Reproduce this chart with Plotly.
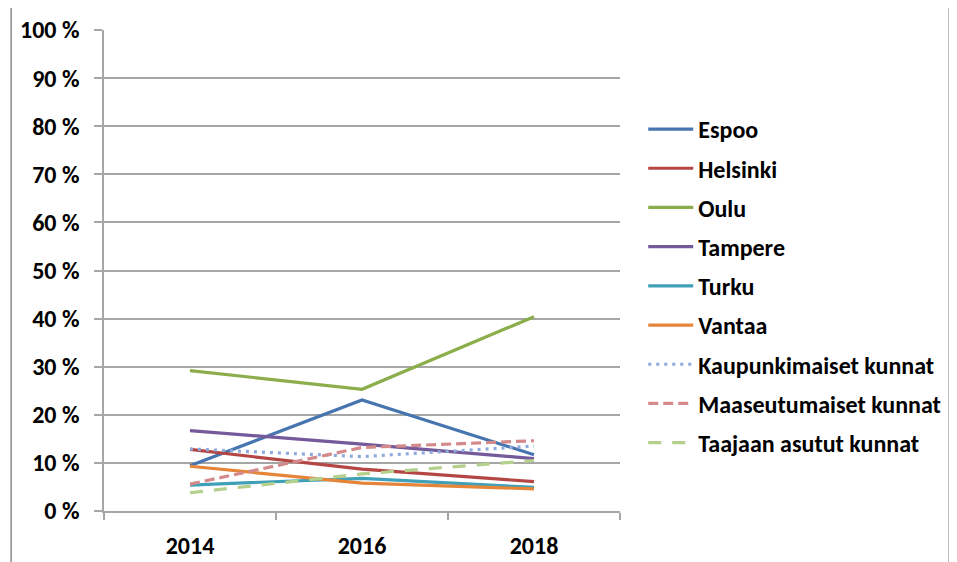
import plotly.graph_objects as go

# 資料
years = ["2014", "2016", "2018"]
espoo = [9.4, 23.1, 11.7]
helsinki = [12.8, 8.7, 6.1]
oulu = [29.2, 25.3, 40.4]
tampere = [16.7, 13.9, 10.9]
turku = [5.4, 6.8, 4.9]
vantaa = [9.3, 5.8, 4.6]
kaupunki = [12.9, 11.3, 13.5]
maaseutu = [5.6, 13.2, 14.6]
taajaan = [3.8, 7.7, 10.5]
y_ticks = list(range(0, 101, 10))
y_labels = [f"{v} %" for v in y_ticks]

series = [
    ("Espoo", espoo, "#4675b0", "solid"),
    ("Helsinki", helsinki, "#b44744", "solid"),
    ("Oulu", oulu, "#8bad4a", "solid"),
    ("Tampere", tampere, "#74599b", "solid"),
    ("Turku", turku, "#3fa0b8", "solid"),
    ("Vantaa", vantaa, "#e5853a", "solid"),
    ("Kaupunkimaiset kunnat", kaupunki, "#8ea9db", "3px,5px"),
    ("Maaseutumaiset kunnat", maaseutu, "#d4898a", "10px,5px"),
    ("Taajaan asutut kunnat", taajaan, "#b5cf8c", "13px,11px"),
]

font_fam = "Calibri, Carlito, 'Liberation Sans', Arial, sans-serif"
grid_c = "#a6a6a6"

fig = go.Figure()
for name, vals, color, dash in series:
    fig.add_trace(go.Scatter(
        x=years, y=vals, mode="lines", name=name, legendgroup=name,
        line=dict(color=color, width=3.2, dash=dash)
    ))

# 外框
fig.add_shape(type="rect", xref="paper", yref="paper",
              x0=-0.180, x1=1.638, y0=-0.2, y1=1.048,
              line=dict(color="#8c8c8c", width=1.5), layer="below")

fig.update_xaxes(
    type="category", range=[-0.5, 2.5],
    showgrid=False, showline=True, linecolor=grid_c, linewidth=1.5,
    ticks="outside", tickson="boundaries", ticklen=7, tickcolor=grid_c, tickwidth=1.5,
    tickfont=dict(family=font_fam, size=24, color="black", weight="bold"),
    ticklabelstandoff=12
)
fig.update_yaxes(
    range=[0, 100], tickvals=y_ticks, ticktext=y_labels,
    showgrid=True, gridcolor=grid_c, gridwidth=1.5,
    showline=True, linecolor=grid_c, linewidth=1.5,
    ticks="outside", ticklen=8, tickcolor=grid_c, tickwidth=1.5,
    zeroline=False,
    tickfont=dict(family=font_fam, size=24, color="black", weight="bold"),
    ticklabelstandoff=10
)

# 頁面 body 有 8px 邊距，所以邊界往回收
fig.update_layout(
    width=957, height=562,
    margin=dict(l=96, r=345, t=22, b=59, autoexpand=False),
    paper_bgcolor="white", plot_bgcolor="white",
    showlegend=True,
    legend=dict(
        x=1.045, y=0.84, xanchor="left", yanchor="top",
        font=dict(family=font_fam, size=24, color="black", weight="bold"),
        tracegroupgap=5, itemwidth=45, bgcolor="rgba(0,0,0,0)"
    ),
)

fig.write_html("out.html", config={"displayModeBar": False})
